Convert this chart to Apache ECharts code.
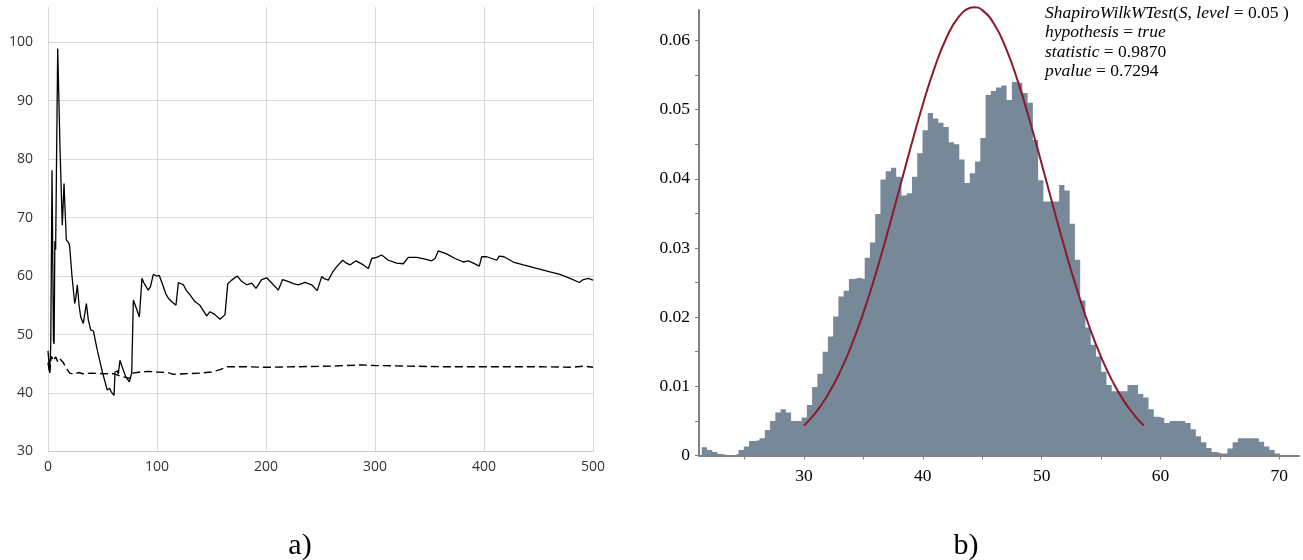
<!DOCTYPE html>
<html>
<head>
<meta charset="utf-8">
<script src="https://cdn.jsdelivr.net/npm/echarts@6/dist/echarts.min.js"></script>
<style>
html,body{margin:0;padding:0;background:#fff;}
#chart{width:1303px;height:560px;}
</style>
</head>
<body>
<div id="chart"></div>
<script>
// ---------- Panel a) : convergence lines ----------
const solidX = [0,1.5,2.5,3.7,5,5.6,6.3,7,8.9,11,13.1,14.7,16.8,18,19.3,20,22,24.5,25.5,26.9,28.5,30,32.4,35.2,37,39.2,41.7,45,50,54.4,56.6,58,60.6,61.5,63.6,64.5,66,68,71.3,74.6,76.8,78.3,81,83.8,86.2,87.8,90,92,94,96.6,99.7,102.1,105.2,108,110.4,113.5,117.4,119.6,124.2,127,130.3,134.9,139.4,145.6,148.6,153.2,157.8,162.4,164.9,168.5,173.6,177.6,182.3,186.9,190.8,196,200.6,205.2,211.3,215.3,221.4,225,229.7,235.8,241.9,247,251.1,254,257.2,261.2,264.9,266.4,270.3,273,277,282.6,289.3,293.9,297,301.5,306.1,312.2,319.9,326,330.6,338.3,345.9,352,355.1,358,365.7,373.4,381,385.6,390.2,395.7,397.9,402.5,407.1,411.7,414,418.3,426.9,436.1,448.3,460.6,469.7,478.9,487.5,491.1,495.7,500];
const solidY = [47.2,43.5,48,78.1,49,48.4,66,64.5,98.9,82,68.7,75.8,66.2,66,65.6,64.8,60,55.3,56.2,58.5,55,53,51.9,55.3,52.5,50.8,50.6,47.5,43.5,40.5,40.8,40.2,39.6,43.6,43.8,43.2,45.6,44.5,42.8,41.9,43.4,55.9,54.5,53,59.6,58.9,58.2,57.6,58.2,60.3,60,60.1,58.5,57,56.2,55.6,55,58.9,58.5,57.5,56.8,55.6,55,53.2,53.9,53.4,52.6,53.4,58.7,59.3,60,59.1,58.5,58.8,57.9,59.4,59.7,58.8,57.6,59.4,59,58.7,58.5,58.9,58.5,57.5,59.9,59.5,59.3,60.7,61.6,61.5,62.7,62.3,61.9,62.6,61.9,61.3,63,63.2,63.6,62.7,62.2,62.1,63.2,63.2,62.9,62.6,63,64.3,63.8,63,62.4,62.6,62.2,61.7,63.3,63.3,63,62.7,63.4,63.3,62.4,61.9,61.3,60.7,60.3,59.6,58.9,59.4,59.6,59.3];
const dashX = [0,1.5,3,5,7,9,11,14,17,20,24,28,32,40,50,60,66,75,78,85,92,100,110,115,125,140,150,158,165,180,200,230,260,288,300,330,360,400,450,480,492,500];
const dashY = [45.2,43.3,46.3,45.5,46.2,45.3,45.8,45.2,44.2,43.4,43.2,43.5,43.3,43.4,43.3,43.3,42.9,42.5,43.4,43.6,43.7,43.6,43.5,43.2,43.3,43.4,43.6,44.0,44.5,44.5,44.4,44.5,44.6,44.8,44.7,44.6,44.5,44.5,44.5,44.4,44.6,44.4];

// ---------- Panel b) : histogram + fitted normal ----------
const binStart = 21.39;
const binWidth = 0.4424;
const binHeights = [
 0.0012,0.0008,0.0005,0.0002,0.0000,0.0000,0.0002,0.0008,0.0013,0.0021,
 0.0022,0.0025,0.0037,0.0050,0.0062,0.0067,0.0062,0.0050,0.0050,0.0055,
 0.0073,0.0099,0.0118,0.0150,0.0172,0.0201,0.0230,0.0238,0.0255,0.0257,
 0.0255,0.0286,0.0308,0.0349,0.0399,0.0411,0.0416,0.0403,0.0376,0.0379,
 0.0403,0.0437,0.0470,0.0495,0.0487,0.0481,0.0475,0.0453,0.0450,0.0428,
 0.0394,0.0408,0.0425,0.0459,0.0521,0.0527,0.0532,0.0535,0.0514,0.0540,
 0.0538,0.0524,0.0510,0.0456,0.0398,0.0367,0.0367,0.0367,0.0391,0.0383,
 0.0335,0.0283,0.0224,0.0185,0.0160,0.0143,0.0121,0.0102,0.0093,0.0093,
 0.0093,0.0102,0.0102,0.0089,0.0084,0.0067,0.0056,0.0054,0.0047,0.0050,
 0.0050,0.0050,0.0047,0.0038,0.0028,0.0019,0.0011,0.0005,0.0003,0.0003,
 0.0010,0.0019,0.0025,0.0025,0.0025,0.0025,0.0020,0.0013,0.0008,0.0003];
const curveX = [30,31,32,33,34,35,36,37,38,39,40,41,42,43,44,44.3,45,46,47,48,49,50,51,52,53,54,55,56,57,58,58.6];
const curveY = [0.00434,0.00625,0.00877,0.01198,0.01594,0.02066,0.02606,0.03204,0.03834,0.04470,0.05075,0.05611,0.06043,0.06337,0.06472,0.0648,0.06438,0.06237,0.05885,0.05408,0.04839,0.04217,0.03580,0.02959,0.02383,0.01868,0.01426,0.01061,0.00768,0.00542,0.00434];
const rightXTicks = [25,30,35,40,45,50,55,60,65,70];
const rightXLabels = [30,40,50,60,70];
const rightYTicks = [0,0.005,0.01,0.015,0.02,0.025,0.03,0.035,0.04,0.045,0.05,0.055,0.06];
const rightYLabels = [0,0.01,0.02,0.03,0.04,0.05,0.06];
const testLines = [
  '{i|ShapiroWilkWTest}{n|(}{i|S,}{n| }{i|level}{n| = 0.05 )}',
  '{i|hypothesis}{n| = }{i|true}',
  '{i|statistic}{n| = 0.9870}',
  '{i|pvalue}{n| = 0.7294}'
];

const zip = (a, b) => a.map((v, i) => [v, b[i]]);
const histData = binHeights.map((h, i) => [binStart + i * binWidth, h]);
histData.push([binStart + binHeights.length * binWidth, binHeights[binHeights.length - 1]]);

const serif = '"Liberation Serif","Times New Roman",serif';
const sans = '"Open Sans","Noto Sans",sans-serif';
const richStyles = {
  i: {fontFamily: serif, fontSize: 17.5, fontStyle: 'italic', color: '#000'},
  n: {fontFamily: serif, fontSize: 17.5, fontStyle: 'normal', color: '#000'}
};

const chart = echarts.init(document.getElementById('chart'), null, {renderer: 'canvas'});
chart.setOption({
  animation: false,
  backgroundColor: '#fff',
  grid: [
    {left: 48, right: 710, top: 7, bottom: 108.5},
    {left: 699, right: 4, top: 10, bottom: 104.5}
  ],
  xAxis: [
    {
      gridIndex: 0, type: 'value', min: 0, max: 500, interval: 100,
      axisLine: {show: true, lineStyle: {color: '#c8c8c8', width: 1}},
      axisTick: {show: false},
      axisLabel: {color: '#333', fontFamily: sans, fontSize: 14, margin: 9},
      splitLine: {show: true, lineStyle: {color: '#d9d9d9', width: 1}}
    },
    {
      gridIndex: 1, type: 'value', min: 21.16, max: 71.66,
      axisLine: {show: true, onZero: false, lineStyle: {color: '#808080', width: 2}},
      axisTick: {show: true, length: 4, customValues: rightXTicks, lineStyle: {color: '#808080'}},
      axisLabel: {customValues: rightXLabels, color: '#000', fontFamily: serif, fontSize: 17.5, margin: 12},
      splitLine: {show: false}
    }
  ],
  yAxis: [
    {
      gridIndex: 0, type: 'value', min: 30, max: 106, interval: 10,
      axisLine: {show: false},
      axisTick: {show: false},
      axisLabel: {color: '#333', fontFamily: sans, fontSize: 14, margin: 15,
        formatter: v => (v % 10 === 0 ? String(v) : '')},
      splitLine: {show: true, showMaxLine: false, lineStyle: {color: '#d9d9d9', width: 1}}
    },
    {
      gridIndex: 1, type: 'value', min: 0, max: 0.0644,
      axisLine: {show: true, onZero: false, lineStyle: {color: '#808080', width: 2}},
      axisTick: {show: true, length: 4, customValues: rightYTicks, lineStyle: {color: '#808080'}},
      axisLabel: {customValues: rightYLabels, color: '#000', fontFamily: serif, fontSize: 17.5, margin: 9,
        formatter: v => (Math.abs(v) < 1e-9 ? '0' : v.toFixed(2))},
      splitLine: {show: false}
    }
  ],
  series: [
    {
      type: 'line', xAxisIndex: 0, yAxisIndex: 0, data: zip(dashX, dashY),
      symbol: 'none', lineStyle: {color: '#000', width: 1.4, type: [8, 4]}
    },
    {
      type: 'line', xAxisIndex: 0, yAxisIndex: 0, data: zip(solidX, solidY),
      symbol: 'none', lineStyle: {color: '#000', width: 1.3}
    },
    {
      type: 'line', xAxisIndex: 1, yAxisIndex: 1, data: histData, step: 'end',
      symbol: 'none', lineStyle: {width: 0, color: '#778899'},
      areaStyle: {color: '#778899', opacity: 1}, z: 2
    },
    {
      type: 'line', xAxisIndex: 1, yAxisIndex: 1, data: zip(curveX, curveY), smooth: true,
      symbol: 'none', clip: false, lineStyle: {color: '#8b1a2e', width: 2}, z: 3
    }
  ],
  graphic: [
    ...testLines.map((t, k) => ({
      type: 'text', x: 1045, y: 13.5 + k * 19.3,
      style: {text: t, rich: richStyles, verticalAlign: 'middle', align: 'left'}
    })),
    {type: 'text', x: 300, y: 546, style: {text: 'a)', fontFamily: serif, fontSize: 30, fill: '#000', align: 'center', verticalAlign: 'middle'}},
    {type: 'text', x: 966, y: 546, style: {text: 'b)', fontFamily: serif, fontSize: 30, fill: '#000', align: 'center', verticalAlign: 'middle'}}
  ]
});
</script>
</body>
</html>
